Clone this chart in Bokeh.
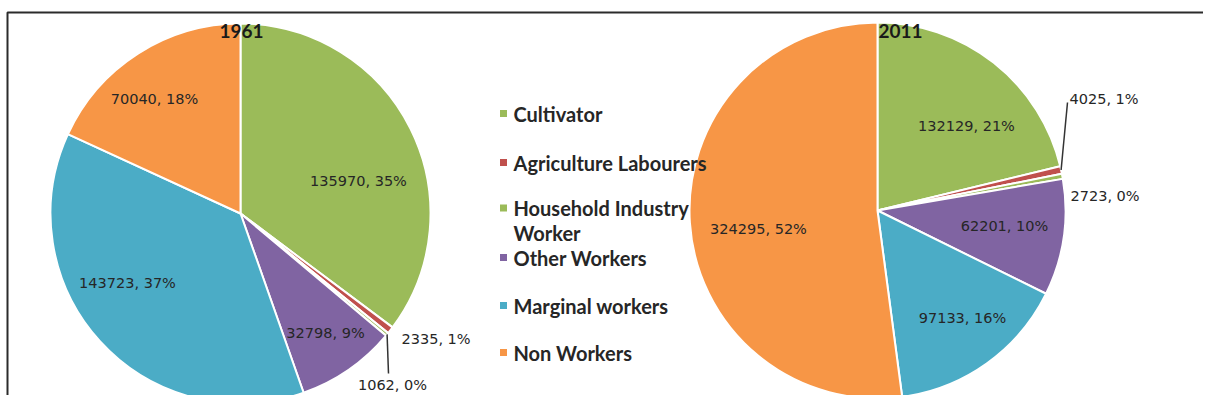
import math
from bokeh.plotting import figure
from bokeh.models import Range1d, ColumnDataSource
from bokeh.embed import file_html
from bokeh.resources import INLINE
from bokeh.core.properties import value

# ---------------- data ----------------
years = ["1961", "2011"]
categories = ["Cultivator", "Agriculture Labourers", "Household Industry\nWorker",
              "Other Workers", "Marginal workers", "Non Workers"]
values_1961 = [135970, 2335, 1062, 32798, 143723, 70040]
values_2011 = [132129, 4025, 2723, 62201, 97133, 324295]
pct_1961 = [35, 1, 0, 9, 37, 18]
pct_2011 = [21, 1, 0, 10, 16, 52]

# ---------------- style / layout ----------------
colors = ["#9BBB59", "#C0504D", "#9BBB59", "#8064A2", "#4BACC6", "#F79646"]
W, H = 1203, 395


def dx(sx):
    return sx


def dy(sy):
    return H - sy


pies = [
    dict(values=values_1961, pct=pct_1961, cx=240, cy=213, r=190,
         lab=[(118, -33, "center"), (161, 125, "left"), (152, 171, "center"),
              (85, 119, "center"), (-113, 69, "center"), (-86, -115, "center")],
         leader=[None, None, (148, 160), None, None, None],
         title=(1, -183, "center")),
    dict(values=values_2011, pct=pct_2011, cx=877, cy=210, r=188,
         lab=[(89, -85, "center"), (192, -112, "left"), (193, -15, "left"),
              (127, 15, "center"), (85, 107, "center"), (-119, 18, "center")],
         leader=[None, (190, -108), None, None, None, None],
         title=(1, -180, "left")),
]

p = figure(width=W, height=H, output_backend="svg", toolbar_location=None,
           x_range=Range1d(0, W), y_range=Range1d(0, H), min_border=0)
p.axis.visible = False
p.grid.visible = False
p.outline_line_color = None
p.background_fill_color = "white"
p.border_fill_color = "white"

# chart border (top + left)
p.line(x=[dx(7), dx(7), W + 5], y=[-10, dy(12), dy(12)], line_color="#2b2b2b", line_width=2)

label_font = value("DejaVu Sans")
bold_font = value("Lato")

for year, pie in zip(years, pies):
    vals = pie["values"]
    total = float(sum(vals))
    cx, cy, r = dx(pie["cx"]), dy(pie["cy"]), pie["r"]
    starts, ends, mids = [], [], []
    cum = 0.0
    for v in vals:
        a0 = math.pi / 2 - 2 * math.pi * cum / total
        cum += v
        a1 = math.pi / 2 - 2 * math.pi * cum / total
        starts.append(a1)
        ends.append(a0)
        mids.append((a0 + a1) / 2)
    src = ColumnDataSource(dict(start=starts, end=ends, color=colors))
    p.wedge(x=cx, y=cy, radius=r, start_angle="start", end_angle="end",
            fill_color="color", line_color="white", line_width=2, source=src)

    # leader lines
    for i, ld in enumerate(pie["leader"]):
        if ld is None:
            continue
        ex = cx + r * math.cos(mids[i])
        ey = cy + r * math.sin(mids[i])
        p.line(x=[ex, cx + ld[0]], y=[ey, cy - ld[1]], line_color="#333333", line_width=1.5)

    # data labels
    for i, (ox, oy, al) in enumerate(pie["lab"]):
        txt = f"{vals[i]}, {pie['pct'][i]}%"
        p.text(x=[cx + ox], y=[cy - oy], text=[txt], text_font=label_font,
               text_font_size="14.5px", text_color="#262626", text_align=al,
               text_baseline="middle")

    tx, ty, tal = pie["title"]
    p.text(x=[cx + tx], y=[cy - ty], text=[year], text_font=bold_font,
           text_font_style="bold", text_font_size="19px", text_color="#1a1a1a",
           text_align=tal, text_baseline="middle")

# legend (manual)
leg_y = [113, 162, 220, 257, 305, 352]
line_h = 25
for i, cat in enumerate(categories):
    n = cat.count("\n") + 1
    yc = leg_y[i]
    my = yc - (n - 1) * line_h / 2
    p.scatter(x=[dx(503)], y=[dy(my)], marker="square", size=7,
              fill_color=colors[i], line_color=None)
    p.text(x=[dx(513)], y=[dy(yc)], text=[cat], text_font=bold_font,
           text_font_style="bold", text_font_size="20px", text_color="#262626",
           text_align="left", text_baseline="middle", text_line_height=1.05)

open("out.html", "w").write(file_html(p, INLINE))
